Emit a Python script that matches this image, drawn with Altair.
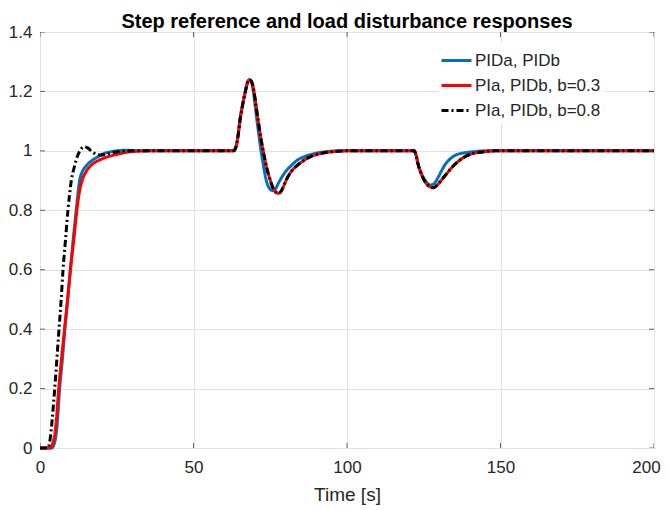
import altair as alt
import pandas as pd

FONT = "Liberation Sans"
AX = "#262626"

series_names = ["PIDa, PIDb", "PIa, PIDb, b=0.3", "PIa, PIDb, b=0.8"]
series_colors = ["#0072BD", "#FF0000", "#000000"]
series_dash = [[1, 0], [1, 0], [7, 3, 2, 3]]
series_width = [3.0, 3.0, 2.2]

# PIDa, PIDb (whole run)
blue_t = [0, 3.8, 4.8, 5.6, 6.4, 7.3, 8.1, 9.0, 9.9, 10.8, 11.8, 12.4, 12.9, 13.8, 15.1,
          17.0, 18.5, 20.5, 22.7, 25, 28, 32,
          63, 63.8, 64.5, 65.1, 66, 67, 67.7, 68.2, 68.8, 69.5, 70.1, 70.7, 71.4, 72,
          72.8, 73.6, 74.6, 75.8, 76.8, 77.6, 78.4, 80, 81.8, 84, 86, 89, 93, 98,
          121.9, 122.5, 123.2, 124, 124.9, 126, 127.2, 128.3, 129.8, 131, 131.9, 133.5,
          135.2, 138, 141, 145, 200]
blue_v = [0, 0, 0.02, 0.08, 0.2, 0.3, 0.4, 0.5, 0.6, 0.7, 0.8, 0.86, 0.9, 0.93, 0.95,
          0.968, 0.978, 0.99, 0.996, 1.0, 1.002, 1.0,
          1.0, 1.012, 1.05, 1.1, 1.155, 1.205, 1.233, 1.239, 1.232, 1.2, 1.15, 1.1, 1.045, 1.0,
          0.95, 0.905, 0.876, 0.866, 0.874, 0.89, 0.905, 0.93, 0.95, 0.97, 0.98, 0.99, 0.997, 1.0,
          1.0, 0.985, 0.955, 0.93, 0.91, 0.893, 0.885, 0.889, 0.913, 0.937, 0.953, 0.972,
          0.985, 0.993, 0.997, 1.0, 1.0]

# PIa, PIDb, b=0.3 : step part
red_step_t = [0, 3.2, 4.3, 5.2, 6.1, 7.0, 8.0, 9.0, 9.9, 11.0, 12.0, 12.8, 13.7, 15.0,
              16.5, 18.0, 20.0, 22.0, 25.0, 28.0, 32.0, 36.0]
red_step_v = [0, 0, 0.02, 0.08, 0.2, 0.3, 0.4, 0.5, 0.6, 0.7, 0.8, 0.86, 0.9, 0.93,
              0.95, 0.962, 0.972, 0.98, 0.988, 0.995, 0.999, 1.0]

# PIa, PIDb, b=0.8 : step part
black_step_t = [0, 2.6, 3.3, 4.0, 4.8, 5.5, 6.2, 6.9, 7.5, 8.3, 9.1, 9.6, 10.2, 11.3,
                12.3, 13.3, 14.3, 15.5, 17, 18.5, 20, 22, 24.3, 27, 30]
black_step_v = [0, 0, 0.03, 0.1, 0.2, 0.3, 0.4, 0.5, 0.6, 0.7, 0.8, 0.85, 0.9, 0.95,
                0.985, 1.005, 1.014, 1.01, 0.997, 0.988, 0.986, 0.99, 0.995, 0.999, 1.0]

# PIa, PIDb (both b values coincide): load disturbance part
load_t = [63, 63.8, 64.5, 65.1, 66, 67, 67.7, 68.2, 68.9, 69.7, 70.4, 71.1, 71.9, 72.7,
          73.8, 74.9, 76, 77.6, 78.6, 79.3, 80.1, 81.8, 83.7, 86, 88, 91, 95, 100,
          121.9, 122.5, 123.2, 124, 124.9, 126, 127, 128.1, 129.2, 130.8, 133, 134.5,
          136.3, 138, 140.6, 144, 148, 200]
load_v = [1.0, 1.012, 1.05, 1.1, 1.155, 1.205, 1.233, 1.239, 1.233, 1.2, 1.15, 1.1, 1.045, 1.0,
          0.945, 0.905, 0.873, 0.857, 0.865, 0.88, 0.9, 0.93, 0.95, 0.968, 0.98, 0.99, 0.997, 1.0,
          1.0, 0.985, 0.953, 0.928, 0.906, 0.888, 0.879, 0.876, 0.883, 0.902, 0.93, 0.948,
          0.965, 0.978, 0.99, 0.996, 1.0, 1.0]

x_ticks = [0, 50, 100, 150, 200]
y_ticks = [0, 0.2, 0.4, 0.6, 0.8, 1.0, 1.2, 1.4]

rows = []
for name, ts, vs in [
    (series_names[0], blue_t, blue_v),
    (series_names[1], red_step_t + load_t, red_step_v + load_v),
    (series_names[2], black_step_t + load_t, black_step_v + load_v),
]:
    rows += [{"t": t, "v": v, "series": name} for t, v in zip(ts, vs)]
df = pd.DataFrame(rows)

W, H = 614, 416
xscale = alt.Scale(domain=[0, 200], nice=False, zero=False)
yscale = alt.Scale(domain=[0, 1.4], nice=False, zero=False)

lines = alt.Chart(df).mark_line(interpolate="monotone").encode(
    x=alt.X("t:Q", scale=xscale,
            axis=alt.Axis(values=x_ticks, title="Time [s]", format="d", labelFlush=False,
                          labelOffset={"condition": {"test": "datum.value == 200", "value": -8},
                                       "value": 0})),
    y=alt.Y("v:Q", scale=yscale,
            axis=alt.Axis(values=y_ticks, title=None, labelFlush=False,
                          labelExpr="format(datum.value, '~g')")),
    color=alt.Color("series:N", scale=alt.Scale(domain=series_names, range=series_colors),
                    legend=alt.Legend(title=None)),
    strokeDash=alt.StrokeDash("series:N", scale=alt.Scale(domain=series_names, range=series_dash),
                              legend=alt.Legend(title=None)),
    strokeWidth=alt.StrokeWidth("series:N", scale=alt.Scale(domain=series_names, range=series_width),
                                legend=None),
)

xt = pd.DataFrame({"t": x_ticks})
yt = pd.DataFrame({"v": y_ticks})
tick_x_bottom = alt.Chart(xt).mark_tick(orient="vertical", size=10, thickness=1, clip=True, color=AX).encode(
    x=alt.X("t:Q", scale=xscale), y=alt.value(H))
tick_x_top = alt.Chart(xt).mark_tick(orient="vertical", size=10, thickness=1, clip=True, color=AX).encode(
    x=alt.X("t:Q", scale=xscale), y=alt.value(0))
tick_y_left = alt.Chart(yt).mark_tick(orient="horizontal", size=10, thickness=1, clip=True, color=AX).encode(
    y=alt.Y("v:Q", scale=yscale), x=alt.value(0))
tick_y_right = alt.Chart(yt).mark_tick(orient="horizontal", size=10, thickness=1, clip=True, color=AX).encode(
    y=alt.Y("v:Q", scale=yscale), x=alt.value(W))

chart = alt.layer(lines, tick_x_bottom, tick_x_top, tick_y_left, tick_y_right).properties(
    width=W, height=H,
    autosize=alt.AutoSizeParams(type="none"),
    padding={"left": 32, "top": 24, "right": 8, "bottom": 62},
    title=alt.Title("Step reference and load disturbance responses", font=FONT, fontSize=20,
                    fontWeight="bold", color="#000000", anchor="middle", frame="group", offset=-9),
).configure_view(
    stroke=AX, strokeWidth=1
).configure_axis(
    grid=True, gridColor="#e2e2e2", gridWidth=1, domain=False, ticks=False,
    labelFont=FONT, labelFontSize=17, labelColor=AX,
    titleFont=FONT, titleFontSize=19, titleFontWeight="normal", titleColor=AX,
).configure_axisX(
    labelPadding=11, titlePadding=10
).configure_axisY(
    labelPadding=8
).configure_legend(
    orient="none", legendX=399, legendY=11, fillColor="white", padding=4,
    labelFont=FONT, labelFontSize=17, labelColor=AX, labelOffset=5,
    symbolType="M-1.25,0H1.25", symbolSize=576, symbolStrokeWidth=2.5, rowPadding=3,
)

chart.save("out.html", embed_options={"renderer": "svg", "actions": False})
